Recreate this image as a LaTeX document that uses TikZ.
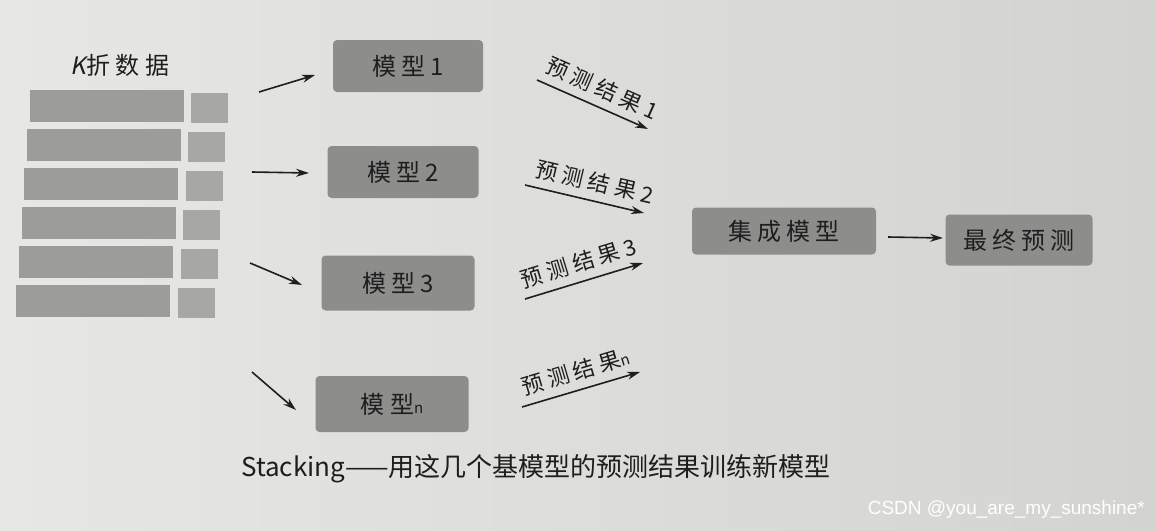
\documentclass[tikz,border=0pt]{standalone}
\usepackage{fontspec}
\setmainfont{Noto Sans CJK SC}
\newfontfamily\cjkwide[LetterSpace=22]{Noto Sans CJK SC}
\newfontfamily\slantfont[FakeSlant=0.2]{Noto Sans CJK SC}
\newfontfamily\wmfont{Liberation Sans}
\usetikzlibrary{arrows.meta}
\definecolor{paperL}{HTML}{E7E7E4}
\definecolor{paperR}{HTML}{D3D3CF}
\definecolor{boxgray}{HTML}{8D8D8B}
\definecolor{bargray}{HTML}{9C9C9A}
\definecolor{smallgray}{HTML}{A7A7A5}
\definecolor{ink}{HTML}{1E1E1E}
\begin{document}
\begin{tikzpicture}[x=1pt,y=-1pt,
  box/.style={fill=boxgray, rounded corners=4pt, inner sep=0pt, text=ink,
    font=\cjkwide\fontsize{24}{26}\selectfont},
  arr/.style={draw=ink, line width=1.6pt, -{Stealth[length=13pt,width=8pt]}},
  lab/.style={text=ink, font=\cjkwide\fontsize{22}{24}\selectfont, sloped, above, inner sep=8pt},
  bar/.style={fill=bargray},
  sbar/.style={fill=smallgray}]
\shade[left color=paperL, right color=paperR] (0,0) rectangle (1156,530);
\useasboundingbox (0,0) rectangle (1156,530);

% K-fold data
\node[text=ink, font=\cjkwide\fontsize{24}{26}\selectfont] (title) at (120,65) {{\slantfont K}折数据};
\foreach \i in {0,...,5}{
  \fill[bar] (30-2.8*\i,90+39*\i) rectangle ++(154,32);
  \fill[sbar] (191-2.6*\i,93+39*\i) rectangle ++(37,30);
}

% models
\node[box, minimum width=150pt, minimum height=52pt] (m1) at (408,66) {模型1};
\node[box, minimum width=151pt, minimum height=52pt] (m2) at (403,172) {模型2};
\node[box, minimum width=153pt, minimum height=55pt] (m3) at (398,283) {模型3};
\node[box, minimum width=153pt, minimum height=56pt] (mn) at (392,404) {模型{\fontsize{15}{15}\selectfont n}};
\node[box, minimum width=184pt, minimum height=47pt] (ens) at (784,231) {集成模型};
\node[box, minimum width=147pt, minimum height=51pt] (fin) at (1019,240) {最终预测};

% input arrows
\coordinate (a1s) at (259,92);  \coordinate (a1e) at (315,75);
\coordinate (a2s) at (252,172); \coordinate (a2e) at (309,173);
\coordinate (a3s) at (250,263); \coordinate (a3e) at (302,285);
\coordinate (ans) at (252,372); \coordinate (ane) at (296,410);
\draw[arr] (a1s) -- (a1e);
\draw[arr] (a2s) -- (a2e);
\draw[arr] (a3s) -- (a3e);
\draw[arr] (ans) -- (ane);

% prediction arrows
\coordinate (r1s) at (537,80);  \coordinate (r1e) at (648,129);
\coordinate (r2s) at (525,185); \coordinate (r2e) at (644,213);
\coordinate (r3s) at (525,299); \coordinate (r3e) at (643,263);
\coordinate (rns) at (522,407); \coordinate (rne) at (640,372);
\draw[arr] (r1s) -- node[lab, pos=0.52] (l1) {预测结果1} (r1e);
\draw[arr] (r2s) -- node[lab, pos=0.55] (l2) {预测结果2} (r2e);
\draw[arr] (r3s) -- node[lab, pos=0.5] (l3) {预测结果3} (r3e);
\draw[arr] (rns) -- node[lab, pos=0.5] (ln) {预测结果{\fontsize{15}{15}\selectfont n}} (rne);

% ensemble to final
\coordinate (es) at (888,237);
\coordinate (fe) at (943,238);
\draw[arr] (es) -- (fe);

% caption
\node[text=ink, font=\fontsize{26}{28}\selectfont] (cap) at (536,469) {Stacking——用这几个基模型的预测结果训练新模型};

% watermark
\node[text=white, font=\wmfont\fontsize{19}{21}\selectfont, anchor=east, inner sep=0pt] (wm) at (1145,510) {CSDN @you\_are\_my\_sunshine*};
\end{tikzpicture}
\end{document}
